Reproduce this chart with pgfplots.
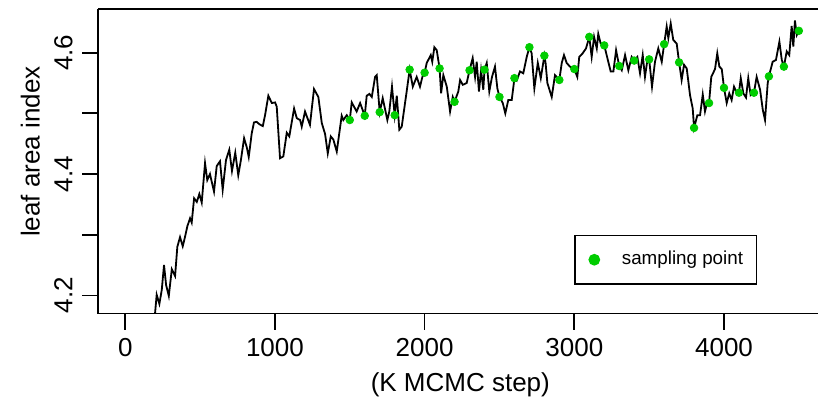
\documentclass[border=0pt]{standalone}
\usepackage{pgfplots}
\pgfplotsset{compat=1.18}
\usepackage{fontspec}
\setmainfont{Liberation Sans}
\definecolor{green3}{HTML}{00CD00}
\begin{document}
\begin{tikzpicture}
\begin{axis}[
  scale only axis,
  width=359.85pt, height=152.1pt,
  xmin=-180, xmax=4628, ymin=4.1701, ymax=4.6715,
  axis x line=box, axis y line=left,
  axis line style={-, line width=0.85pt},
  every tick/.style={black, line width=0.85pt},
  tick align=outside, major tick length=8pt,
  xtick pos=lower, ytick pos=left,
  xtick={0,1000,2000,3000,4000},
  ytick={4.2,4.3,4.4,4.5,4.6},
  yticklabels={4.2,,4.4,,4.6},
  scaled ticks=false,
  /pgf/number format/assume math mode=true,
  /pgf/number format/1000 sep={},
  tick label style={font=\fontsize{13}{15.6}\selectfont},
  xticklabel style={anchor=base, inner sep=0pt, yshift=-13.4pt},
  yticklabel style={rotate=90, anchor=base, inner sep=0pt, yshift=5pt},
  label style={font=\fontsize{13}{15.6}\selectfont},
  xlabel={(K MCMC step)},
  ylabel={leaf area index},
  xlabel style={at={(axis description cs:0.503,-0.258)}, anchor=base, inner sep=0pt},
  ylabel style={at={(axis description cs:-0.0814,0.532)}, anchor=base, rotate=0, inner sep=0pt},
  legend cell align=left,
  legend style={at={(axis cs:3000,4.3)}, anchor=north west, draw=black, line width=0.85pt,
    inner xsep=6.65pt, inner ysep=7.6pt, font=\fontsize{9.4}{11}\selectfont,
    nodes={inner sep=0pt, text height=7pt, text depth=2pt}, column sep=10.85pt},
  legend image code/.code={\fill[green3] (0pt,0pt) circle (2.5pt);},
]
\addplot[black, line width=0.9pt, forget plot] coordinates {
(0,3.90) (100,4.02) (170,4.11) (199,4.170) (210,4.201) (228,4.186) (244,4.209) (259,4.250)
(273,4.217) (291,4.199) (311,4.243) (333,4.232) (348,4.280) (366,4.296) (384,4.281) (399,4.296)
(415,4.314) (433,4.327) (444,4.320) (460,4.360) (478,4.354) (495,4.367) (511,4.353) (533,4.418)
(548,4.390) (566,4.400) (578,4.387) (593,4.371) (611,4.413) (633,4.421) (651,4.374) (673,4.423)
(695,4.440) (713,4.405) (735,4.435) (755,4.398) (772,4.422) (794,4.459) (812,4.444) (825,4.428)
(845,4.467) (860,4.485) (878,4.486) (896,4.482) (919,4.479) (934,4.497) (956,4.529) (979,4.517)
(1001,4.518) (1012,4.511) (1034,4.426) (1056,4.429) (1079,4.468) (1096,4.462) (1128,4.508) (1146,4.492)
(1168,4.489) (1179,4.478) (1201,4.503) (1234,4.481) (1261,4.540) (1290,4.527) (1313,4.484) (1335,4.466)
(1353,4.434) (1373,4.462) (1390,4.457) (1413,4.437) (1446,4.496) (1457,4.489) (1480,4.497) (1500,4.489)
(1513,4.518) (1546,4.503) (1569,4.517) (1600,4.496) (1613,4.529) (1631,4.532) (1647,4.527) (1669,4.560)
(1680,4.563) (1700,4.502) (1720,4.525) (1751,4.489) (1764,4.503) (1782,4.544) (1800,4.497) (1814,4.529)
(1831,4.473) (1847,4.478) (1880,4.536) (1900,4.572) (1921,4.544) (1947,4.560) (1969,4.544) (1985,4.560)
(2000,4.567) (2014,4.583) (2041,4.596) (2051,4.585) (2065,4.609) (2081,4.604) (2100,4.574) (2110,4.533)
(2125,4.563) (2148,4.544) (2170,4.503) (2188,4.527) (2200,4.519) (2225,4.536) (2237,4.555) (2255,4.547)
(2281,4.550) (2300,4.571) (2321,4.591) (2337,4.560) (2348,4.585) (2363,4.536) (2377,4.571) (2392,4.539)
(2400,4.572) (2415,4.583) (2432,4.536) (2450,4.560) (2470,4.577) (2486,4.541) (2500,4.527) (2522,4.517)
(2539,4.500) (2559,4.522) (2582,4.522) (2600,4.558) (2615,4.554) (2637,4.569) (2659,4.566) (2682,4.593)
(2700,4.609) (2715,4.599) (2733,4.541) (2756,4.583) (2776,4.558) (2800,4.595) (2808,4.583) (2820,4.550)
(2849,4.527) (2871,4.563) (2900,4.555) (2916,4.583) (2931,4.596) (2949,4.583) (2971,4.577) (3000,4.573)
(3020,4.560) (3033,4.593) (3056,4.599) (3078,4.607) (3100,4.626) (3116,4.593) (3132,4.626) (3150,4.607)
(3160,4.631) (3176,4.615) (3200,4.612) (3227,4.585) (3243,4.569) (3261,4.569) (3279,4.604) (3300,4.578)
(3317,4.571) (3339,4.596) (3361,4.571) (3383,4.593) (3400,4.587) (3421,4.593) (3439,4.566) (3457,4.596)
(3472,4.560) (3490,4.591) (3500,4.589) (3519,4.544) (3539,4.585) (3561,4.607) (3584,4.585) (3600,4.614)
(3617,4.643) (3628,4.624) (3644,4.648) (3661,4.621) (3684,4.615) (3700,4.584) (3717,4.555) (3733,4.580)
(3751,4.574) (3773,4.530) (3791,4.508) (3800,4.476) (3822,4.497) (3840,4.497) (3858,4.531) (3873,4.503)
(3889,4.519) (3900,4.517) (3915,4.560) (3940,4.573) (3955,4.599) (3969,4.577) (3985,4.573) (4000,4.542)
(4018,4.517) (4035,4.533) (4051,4.522) (4067,4.544) (4085,4.534) (4100,4.534) (4112,4.558) (4129,4.533)
(4147,4.526) (4162,4.558) (4178,4.530) (4200,4.534) (4218,4.560) (4241,4.539) (4259,4.506) (4274,4.489)
(4292,4.550) (4300,4.561) (4325,4.585) (4347,4.588) (4370,4.618) (4386,4.588) (4400,4.577) (4419,4.602)
(4436,4.596) (4452,4.644) (4463,4.610) (4474,4.653) (4486,4.629) (4500,4.636)
};
\addplot[only marks, mark=*, mark size=1.9pt, color=green3, mark options={draw=green3, fill=green3}] coordinates {
(1500,4.489) (1600,4.496) (1700,4.502) (1800,4.497) (1900,4.572) (2000,4.567) (2100,4.574) (2200,4.519)
(2300,4.571) (2400,4.572) (2500,4.527) (2600,4.558) (2700,4.609) (2800,4.595) (2900,4.555) (3000,4.573)
(3100,4.626) (3200,4.612) (3300,4.578) (3400,4.587) (3500,4.589) (3600,4.614) (3700,4.584) (3800,4.476)
(3900,4.517) (4000,4.542) (4100,4.534) (4200,4.534) (4300,4.561) (4400,4.577) (4500,4.636)
};
\addlegendentry{sampling point}
\coordinate (ll) at (rel axis cs:0,0);
\coordinate (ur) at (rel axis cs:1,1);
\end{axis}
\pgfresetboundingbox
\path ([xshift=-49.15pt,yshift=-41.75pt]ll) rectangle ([yshift=4.65pt]ur);
\end{tikzpicture}
\end{document}
